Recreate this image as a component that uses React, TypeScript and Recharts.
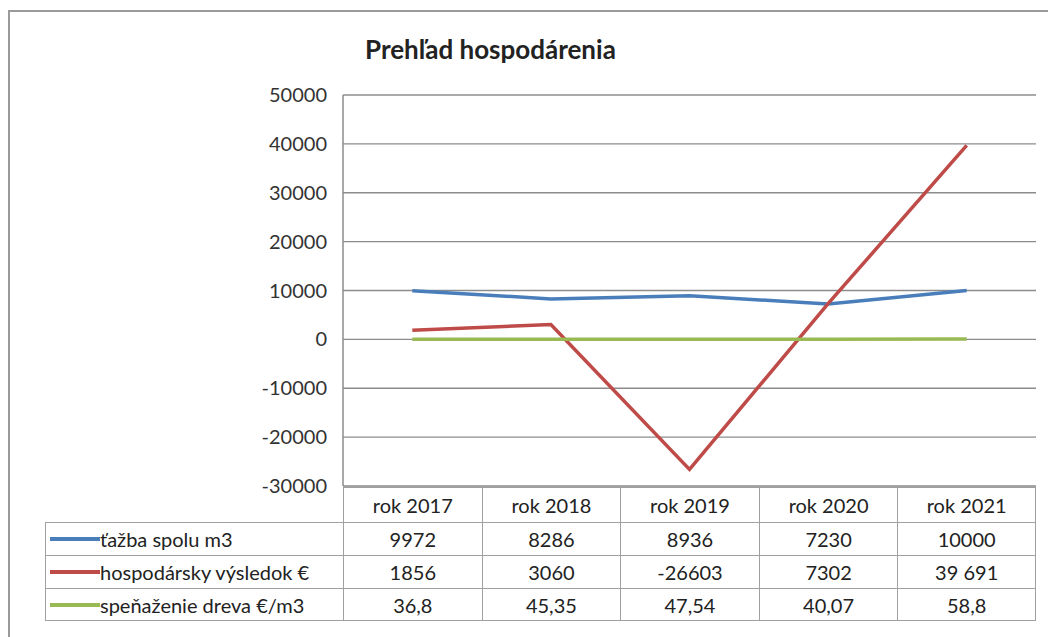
import React from "react"
import { LineChart, Line, XAxis, YAxis, CartesianGrid } from "recharts"

const years = ["rok 2017", "rok 2018", "rok 2019", "rok 2020", "rok 2021"]
const tazba = [9972, 8286, 8936, 7230, 10000]
const vysledok = [1856, 3060, -26603, 7302, 39691]
const spenazenie = [36.8, 45.35, 47.54, 40.07, 58.8]
const tazbaLabels = ["9972", "8286", "8936", "7230", "10000"]
const vysledokLabels = ["1856", "3060", "-26603", "7302", "39 691"]
const spenazenieLabels = ["36,8", "45,35", "47,54", "40,07", "58,8"]
const yTicks = [-30000, -20000, -10000, 0, 10000, 20000, 30000, 40000, 50000]

const series = [
  { key: "tazba", name: "ťažba spolu m3", color: "#4a7ebb", labels: tazbaLabels },
  { key: "vysledok", name: "hospodársky výsledok €", color: "#be4b48", labels: vysledokLabels },
  { key: "spenazenie", name: "speňaženie dreva €/m3", color: "#98b954", labels: spenazenieLabels },
]

const data = years.map((y, i) => ({
  year: y,
  tazba: tazba[i],
  vysledok: vysledok[i],
  spenazenie: spenazenie[i],
}))

const FONT = "Lato, 'Open Sans', sans-serif"
const BORDER = "#a0a0a0"
const PLOT_LEFT = 343
const PLOT_RIGHT = 1036
const COL_W = (PLOT_RIGHT - PLOT_LEFT) / years.length
const TABLE_TOP = 486
const HEAD_H = 36
const ROW_H = 33
const FS = 20

export default function App() {
  return (
    <div style={{ position: "fixed", left: 0, top: 0, width: 1048, height: 637, background: "#fff", fontFamily: FONT, color: "#222" }}>
      <div style={{ position: "absolute", left: 8, top: 10, width: 1050, height: 640, border: "2px solid #9a9a9a", boxSizing: "border-box" }} />
      <div style={{ position: "absolute", left: 365, top: 33, fontSize: 26, fontWeight: 700 }}>Prehľad hospodárenia</div>
      <div style={{ position: "absolute", left: 0, top: 0 }}>
        <LineChart
          width={1048}
          height={637}
          data={data}
          margin={{ top: 95, right: 1048 - PLOT_RIGHT, bottom: 637 - TABLE_TOP, left: PLOT_LEFT - 90 }}
        >
          <CartesianGrid vertical={false} stroke="#8c8c8c" strokeWidth={1.3} />
          <XAxis dataKey="year" hide padding={{ left: COL_W / 2, right: COL_W / 2 }} />
          <YAxis
            width={90}
            domain={[-30000, 50000]}
            ticks={yTicks}
            interval={0}
            tickLine={false}
            axisLine={{ stroke: "#8c8c8c", strokeWidth: 1.5 }}
            tickMargin={10}
            tick={{ fill: "#333", fontSize: FS, fontFamily: FONT }}
          />
          {series.map((s) => (
            <Line
              key={s.key}
              dataKey={s.key}
              stroke={s.color}
              strokeWidth={3.5}
              dot={false}
              isAnimationActive={false}
              type="linear"
            />
          ))}
        </LineChart>
      </div>
      {/* data table */}
      <div style={{ position: "absolute", left: PLOT_LEFT, top: TABLE_TOP, width: PLOT_RIGHT - PLOT_LEFT, height: HEAD_H, display: "flex", borderTop: `2px solid ${BORDER}`, boxSizing: "border-box" }}>
        {years.map((y, i) => (
          <div key={y} style={{ width: COL_W, borderLeft: `1.5px solid ${BORDER}`, borderRight: i === years.length - 1 ? `1.5px solid ${BORDER}` : undefined, boxSizing: "border-box", display: "flex", alignItems: "center", justifyContent: "center", fontSize: FS }}>
            {y}
          </div>
        ))}
      </div>
      {series.map((s, r) => (
        <div key={s.key} style={{ position: "absolute", left: 45, top: TABLE_TOP + HEAD_H + r * ROW_H, width: PLOT_RIGHT - 45, height: ROW_H, display: "flex", borderTop: `1.5px solid ${BORDER}`, borderBottom: r === series.length - 1 ? `1.5px solid ${BORDER}` : undefined, boxSizing: "border-box" }}>
          <div style={{ width: PLOT_LEFT - 45, borderLeft: `1.5px solid ${BORDER}`, boxSizing: "border-box", display: "flex", alignItems: "center", fontSize: FS, whiteSpace: "nowrap", overflow: "hidden" }}>
            <div style={{ width: 50, height: 4, background: s.color, marginLeft: 4, flexShrink: 0 }} />
            {s.name}
          </div>
          {s.labels.map((v, i) => (
            <div key={i} style={{ width: COL_W, borderLeft: `1.5px solid ${BORDER}`, borderRight: i === s.labels.length - 1 ? `1.5px solid ${BORDER}` : undefined, boxSizing: "border-box", display: "flex", alignItems: "center", justifyContent: "center", fontSize: FS }}>
              {v}
            </div>
          ))}
        </div>
      ))}
    </div>
  )
}
